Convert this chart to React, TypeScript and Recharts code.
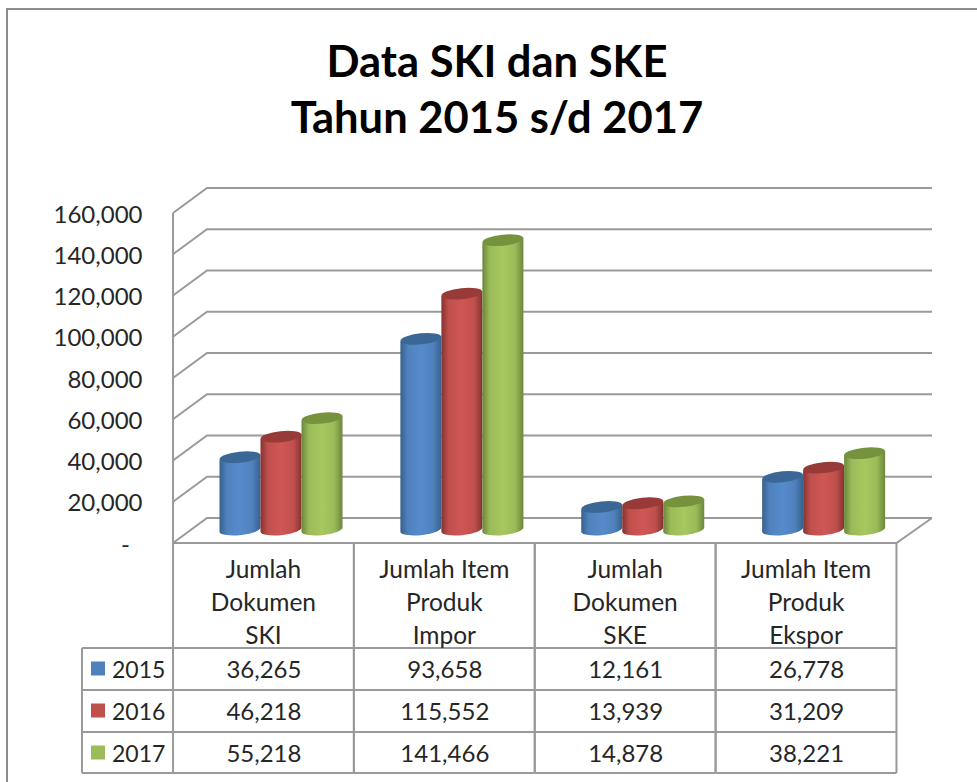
import React from "react";
import { BarChart, Bar, XAxis, YAxis, CartesianGrid } from "recharts";

const categories = ["Jumlah Dokumen SKI", "Jumlah Item Produk Impor", "Jumlah Dokumen SKE", "Jumlah Item Produk Ekspor"];
const categoryLines = [
  ["Jumlah", "Dokumen", "SKI"],
  ["Jumlah Item", "Produk", "Impor"],
  ["Jumlah", "Dokumen", "SKE"],
  ["Jumlah Item", "Produk", "Ekspor"],
];
const seriesNames = ["2015", "2016", "2017"];
const values2015 = [36265, 93658, 12161, 26778];
const values2016 = [46218, 115552, 13939, 31209];
const values2017 = [55218, 141466, 14878, 38221];
const allValues = [values2015, values2016, values2017];
const yTicks = [0, 20000, 40000, 60000, 80000, 100000, 120000, 140000, 160000];
const titleLines = ["Data SKI dan SKE", "Tahun 2015 s/d 2017"];

const palette = [
  { edge: "#38618c", mid: "#4f81bd", light: "#568bcb", top: "#3b6797", swatch: "#4f81bd" },
  { edge: "#853331", mid: "#c0504d", light: "#cf5755", top: "#973a38", swatch: "#c0504d" },
  { edge: "#6b863c", mid: "#9bbb59", light: "#a6c85e", top: "#76923c", swatch: "#9bbb59" },
];

const data = categories.map((name, i) => ({
  name,
  s2015: values2015[i],
  s2016: values2016[i],
  s2017: values2017[i],
}));

const FONT = "Lato, sans-serif";
const TEXT = "#262626";
const LINE = "#9a9a9a";
const DX_FRONT = -17.5;
const DY = 12.5;

const tableTop = 543;
const rowTop = 648;
const rowBottoms = [690, 732, 773];
const rowCenters = [668.5, 710.5, 752.5];
const lineCenters = [568, 601, 634];

const fmt = (v: number) => (v === 0 ? "-" : v.toLocaleString("en-US"));

function GridLine(props: any) {
  const { x1, x2, y1, y, height } = props;
  const isFloor = Math.abs(y1 - (y + height)) < 0.5;
  const isTop = Math.abs(y1 - y) < 0.5;
  const fx = x1 + DX_FRONT;
  const bx = x1 + 16.5;
  const rx = x2 + 18;
  return (
    <g fill="none" stroke={LINE} strokeWidth={2}>
      <path d={`M${fx},${y1 + DY} L${bx},${y1 - DY} L${rx},${y1 - DY}`} />
      {isTop ? <path d={`M${fx},${y + DY} L${fx},${y + height + DY}`} /> : null}
      {isFloor ? (
        <path d={`M${fx},${y1 + DY} L${x2 + DX_FRONT},${y1 + DY} L${rx},${y1 - DY}`} />
      ) : null}
    </g>
  );
}

function YTick(props: any) {
  const { y, payload } = props;
  const zero = payload.value === 0;
  return (
    <text
      x={zero ? 130 : 142.5}
      y={y + DY}
      textAnchor="end"
      dominantBaseline="central"
      fontFamily={FONT}
      fontSize={24}
      fill={TEXT}
    >
      {fmt(payload.value)}
    </text>
  );
}

function XTick(props: any) {
  const { x, index } = props;
  const half = 90.4;
  const cx = x + DX_FRONT;
  const left = cx - half;
  const right = cx + half;
  const t = { fill: TEXT, fontFamily: FONT, textAnchor: "middle" as const, dominantBaseline: "central" as const };
  return (
    <g>
      <g fill="none" stroke={LINE} strokeWidth={2}>
        <line x1={left} x2={left} y1={tableTop} y2={rowBottoms[2]} />
        <line x1={right} x2={right} y1={tableTop} y2={rowBottoms[2]} />
        <line x1={left} x2={right} y1={rowTop} y2={rowTop} />
        {rowBottoms.map((b) => (
          <line key={b} x1={left} x2={right} y1={b} y2={b} />
        ))}
      </g>
      {categoryLines[index].map((l, i) => (
        <text key={i} x={cx} y={lineCenters[i]} fontSize={24.5} {...t}>{l}</text>
      ))}
      {allValues.map((vals, i) => (
        <text key={i} x={cx + 0.5} y={rowCenters[i]} fontSize={24} {...t}>{fmt(vals[index])}</text>
      ))}
      {index === 0 ? (
        <g>
          <g fill="none" stroke={LINE} strokeWidth={2}>
            <line x1={82} x2={82} y1={rowTop} y2={rowBottoms[2]} />
            <line x1={82} x2={left} y1={rowTop} y2={rowTop} />
            {rowBottoms.map((b) => (
              <line key={b} x1={82} x2={left} y1={b} y2={b} />
            ))}
          </g>
          {seriesNames.map((n, i) => (
            <g key={n}>
              <rect x={91} y={rowCenters[i] - 7} width={14} height={14} fill={palette[i].swatch} />
              <text x={112} y={rowCenters[i]} fontFamily={FONT} fontSize={23} fill={TEXT} dominantBaseline="central">{n}</text>
            </g>
          ))}
        </g>
      ) : null}
    </g>
  );
}

const makeCylinder = (s: number) => (props: any) => {
  const { x, y, width, height } = props;
  const rx = width / 2;
  const ry = 5.5;
  const tilt = 2.4;
  const cx = x + rx;
  const top = y + 1.5;
  const bottom = y + height - 1;
  const d =
    `M${x},${top + tilt} L${x},${bottom + tilt} ` +
    `A${rx},${ry} -6 0 0 ${x + width},${bottom - tilt} ` +
    `L${x + width},${top - tilt} Z`;
  return (
    <g>
      <path d={d} fill={`url(#cyl${s})`} />
      <ellipse cx={cx} cy={top} rx={rx} ry={ry} fill={palette[s].top} transform={`rotate(-6 ${cx} ${top})`} />
    </g>
  );
};

export default function App() {
  return (
    <div style={{ position: "absolute", left: 0, top: 0, width: 977, height: 782, overflow: "hidden", background: "#fff" }}>
      <div style={{ position: "absolute", left: 6, top: 8, width: 971, height: 774, borderLeft: "2px solid #8c8c8c", borderTop: "2px solid #8c8c8c", boxSizing: "border-box" }} />
      {titleLines.map((l, i) => (
        <div
          key={l}
          style={{
            position: "absolute",
            left: 0,
            width: 994,
            top: 32 + i * 56,
            height: 56,
            lineHeight: "56px",
            textAlign: "center",
            fontFamily: FONT,
            fontWeight: 700,
            fontSize: 43.5,
            color: "#000",
          }}
        >
          {l}
        </div>
      ))}
      <div style={{ position: "absolute", left: 0, top: 0 }}>
        <BarChart
          width={977}
          height={782}
          data={data}
          margin={{ top: 200.5, right: 63, bottom: 1.5, left: 110.5 }}
          barGap={0}
          barSize={41}
        >
          <defs>
            {palette.map((p, i) => (
              <linearGradient key={i} id={`cyl${i}`} x1="0" y1="0" x2="1" y2="0">
                <stop offset="0%" stopColor={p.edge} />
                <stop offset="18%" stopColor={p.mid} />
                <stop offset="50%" stopColor={p.light} />
                <stop offset="80%" stopColor={p.mid} />
                <stop offset="100%" stopColor={p.edge} />
              </linearGradient>
            ))}
          </defs>
          <CartesianGrid vertical={false} horizontal={(p: any) => <GridLine {...p} />} />
          <XAxis dataKey="name" height={250} axisLine={false} tickLine={false} interval={0} tick={(p: any) => <XTick {...p} />} />
          <YAxis width={80} domain={[0, 160000]} ticks={yTicks} axisLine={false} tickLine={false} interval={0} tick={(p: any) => <YTick {...p} />} />
          <Bar dataKey="s2015" isAnimationActive={false} shape={makeCylinder(0)} />
          <Bar dataKey="s2016" isAnimationActive={false} shape={makeCylinder(1)} />
          <Bar dataKey="s2017" isAnimationActive={false} shape={makeCylinder(2)} />
        </BarChart>
      </div>
    </div>
  );
}
